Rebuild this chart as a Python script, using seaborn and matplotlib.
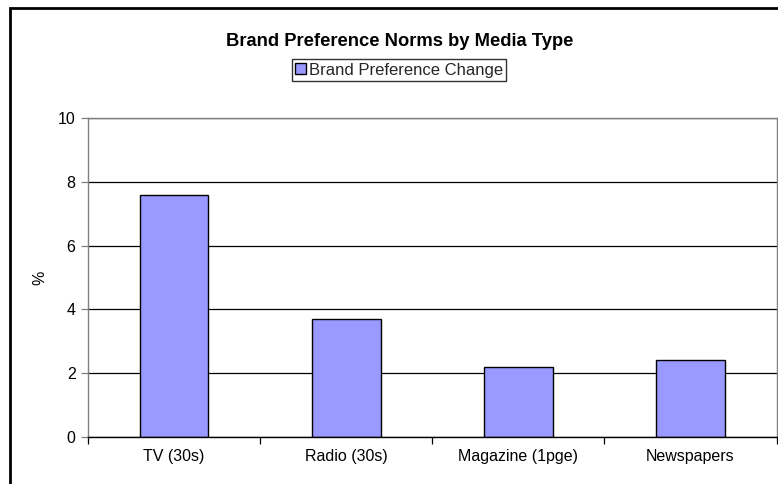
import matplotlib
matplotlib.use("Agg")
import matplotlib.pyplot as plt
import seaborn as sns
import pandas as pd
from matplotlib.patches import Rectangle
from matplotlib.ticker import FixedLocator, NullFormatter

categories = ["TV (30s)", "Radio (30s)", "Magazine (1pge)", "Newspapers"]
values = [7.6, 3.7, 2.2, 2.4]
series_name = "Brand Preference Change"
title = "Brand Preference Norms by Media Type"
y_ticks = [0, 2, 4, 6, 8, 10]

sns.set_theme(style="white")
plt.rcParams["font.family"] = ["Liberation Sans", "DejaVu Sans"]

W, H = 778, 484
fig = plt.figure(figsize=(W / 100, H / 100), dpi=100)
ax = fig.add_axes([88 / W, 1 - 437 / H, (776.5 - 88) / W, (437 - 118) / H])

df = pd.DataFrame({"cat": categories, "val": values})
sns.barplot(data=df, x="cat", y="val", color="#9999FF", saturation=1,
            edgecolor="black", linewidth=1, width=0.4, ax=ax, label=series_name)

ax.set_ylim(0, 10)
ax.set_xlim(-0.5, len(categories) - 0.5)
ax.set_yticks(y_ticks)
ax.yaxis.grid(True, color="black", linewidth=0.9)
ax.set_axisbelow(True)
ax.tick_params(axis="y", length=5, width=0.9, color="#808080", direction="out",
               labelsize=11.5, pad=4, left=True, labelcolor="black")
ax.tick_params(axis="x", which="major", length=0, labelsize=11.5, pad=9, labelcolor="black")
ax.xaxis.set_minor_locator(FixedLocator([i - 0.5 for i in range(len(categories) + 1)]))
ax.xaxis.set_minor_formatter(NullFormatter())
ax.tick_params(axis="x", which="minor", length=5, width=0.9, color="black", direction="out", bottom=True)
ax.set_xlabel("")
ax.set_ylabel("%", fontsize=11.5, color="black")
ax.yaxis.set_label_coords((47 - 88) / (776.5 - 88), 0.5)

for s in ["left", "right", "top"]:
    ax.spines[s].set_visible(True)
    ax.spines[s].set_color("#808080")
    ax.spines[s].set_linewidth(1)
ax.spines["bottom"].set_color("black")
ax.spines["bottom"].set_linewidth(1)

fig.text(400 / W, 1 - 46 / H, title, ha="center", va="baseline",
         fontsize=13.2, fontweight="bold", color="black")

leg = fig.legend(loc="center", bbox_to_anchor=(399 / W, 1 - 70 / H), fontsize=12,
                 frameon=True, fancybox=False, edgecolor="black", handlelength=0.65,
                 handleheight=0.65, handletextpad=0.2, borderpad=0.2, borderaxespad=0)
leg.get_frame().set_linewidth(1)
if ax.legend_:
    ax.legend_.remove()

frame = Rectangle((10 / W, -0.05), 1.2, 1 - 8 / H + 0.05, transform=fig.transFigure,
                  fill=False, edgecolor="black", linewidth=2, clip_on=False)
fig.patches.append(frame)

fig.savefig("out.png", dpi=100)
